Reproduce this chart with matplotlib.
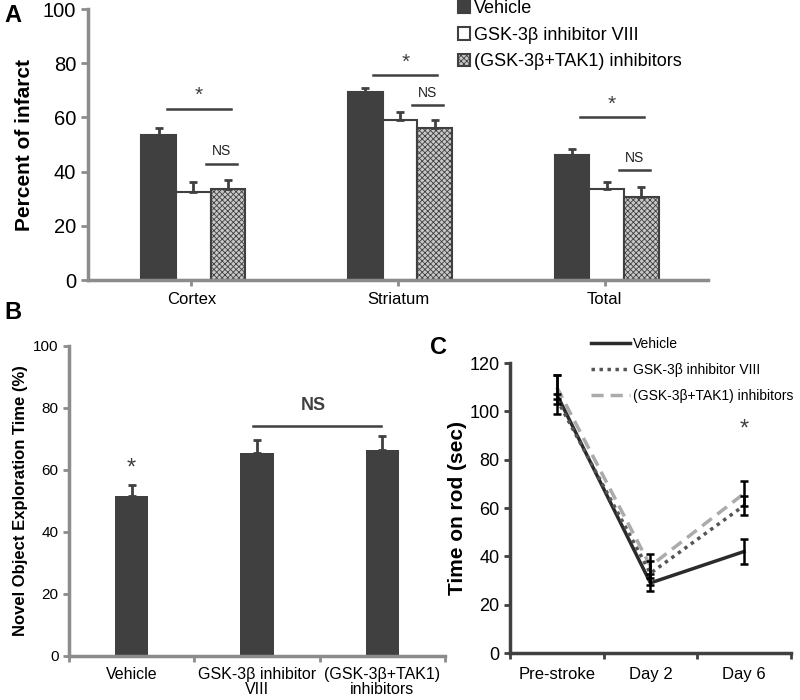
import numpy as np
import matplotlib
matplotlib.use('Agg')
import matplotlib.pyplot as plt

plt.rcParams['font.family'] = ['Liberation Sans', 'DejaVu Sans']
plt.rcParams['hatch.linewidth'] = 0.6

# panel A data
regions = ['Cortex', 'Striatum', 'Total']
groups_a = ['Vehicle', 'GSK-3β inhibitor VIII', '(GSK-3β+TAK1) inhibitors']
infarct = [[53.5, 69.5, 46.0], [32.5, 59.0, 33.5], [33.5, 56.0, 30.5]]
infarct_err = [[2.5, 1.5, 2.5], [3.5, 3.0, 2.5], [3.5, 3.0, 4.0]]

# panel B data
groups_b = ['Vehicle', 'GSK-3β inhibitor\nVIII', '(GSK-3β+TAK1)\ninhibitors']
novel = [51.5, 65.5, 66.5]
novel_err = [3.5, 4.0, 4.5]

# panel C data
days = ['Pre-stroke', 'Day 2', 'Day 6']
rod_vehicle = [107, 29, 42]
rod_gsk = [105, 33, 61]
rod_combo = [110, 36, 66]
rod_vehicle_err = [8, 3.5, 5]
rod_gsk_err = [2, 5, 4]
rod_combo_err = [5, 5, 5]

dark = '#404040'
grey = '#8c8c8c'

fig = plt.figure(figsize=(8, 7), dpi=100)

# ---------------- A ----------------
axA = fig.add_axes([0.11, 0.6, 0.775, 0.387])
x = np.arange(len(regions))
w = 0.168
styles = [dict(color=dark, edgecolor=dark),
          dict(color='white', edgecolor=dark),
          dict(color='#c8c8c8', edgecolor=dark, hatch='xxxxxx')]
bars = []
for i in range(3):
    b = axA.bar(x + (i - 1) * w + 0.01, infarct[i], w, linewidth=1.5, label=groups_a[i], **styles[i])
    axA.errorbar(x + (i - 1) * w + 0.01, infarct[i], yerr=[np.zeros(3), infarct_err[i]],
                 fmt='none', ecolor=dark, elinewidth=2, capsize=3, capthick=2)
    bars.append(b)

# significance marks
for xi, ystar, yns in zip(x, [63, 75.5, 60], [43, 64.5, 40.5]):
    axA.plot([xi - 0.12, xi + 0.19], [ystar, ystar], color=dark, lw=1.8)
    axA.text(xi + 0.035, ystar + 1.5, '*', ha='center', va='bottom', fontsize=15, color=dark)
    axA.plot([xi + 0.07, xi + 0.22], [yns, yns], color=dark, lw=1.8)
    axA.text(xi + 0.145, yns + 2, 'NS', ha='center', va='bottom', fontsize=10, color='#222')

axA.set_xlim(-0.5, 2.5)
axA.set_ylim(0, 100)
axA.set_yticks(range(0, 101, 20))
axA.set_xticks(x)
axA.set_xticklabels(regions, fontsize=12)
axA.tick_params(axis='y', labelsize=14.5, length=5, width=2, color=grey)
axA.tick_params(axis='x', length=4, width=2, color=grey, pad=5)
axA.set_ylabel('Percent of infarct', fontsize=15, fontweight='bold', labelpad=6)
for s in ['top', 'right']:
    axA.spines[s].set_visible(False)
for s in ['left', 'bottom']:
    axA.spines[s].set_color(grey)
    axA.spines[s].set_linewidth(2.5)
axA.legend(handles=bars, loc='upper left', bbox_to_anchor=(0.57, 1.095), frameon=False,
           fontsize=13, handlelength=0.7, handleheight=0.7, handletextpad=0.2, labelspacing=0.55)
fig.text(0.005, 0.978, 'A', fontsize=17, fontweight='bold', va='center')

# ---------------- B ----------------
axB = fig.add_axes([0.08625, 0.0629, 0.47, 0.443])
xb = np.arange(len(groups_b))
axB.bar(xb, novel, 0.264, color=dark)
axB.errorbar(xb, novel, yerr=[np.zeros(3), novel_err], fmt='none', ecolor=dark,
             elinewidth=2, capsize=3, capthick=2)
axB.text(0, 57, '*', ha='center', va='bottom', fontsize=17, color=dark)
axB.plot([0.97, 1.99], [74, 74], color=dark, lw=1.8)
axB.text(1.45, 78, 'NS', ha='center', va='bottom', fontsize=13, fontweight='bold', color=dark)
axB.set_xlim(-0.5, 2.5)
axB.set_ylim(0, 100)
axB.set_yticks(range(0, 101, 20))
axB.set_xticks(xb)
axB.set_xticklabels(groups_b, fontsize=11.5, linespacing=1.0)
axB.set_xticks([-0.5, 0.5, 1.5, 2.5], minor=True)
axB.tick_params(axis='x', which='major', length=0, pad=8)
axB.tick_params(axis='x', which='minor', length=4, width=2, color=grey)
axB.tick_params(axis='y', labelsize=11, length=4, width=2, color=grey)
axB.set_ylabel('Novel Object Exploration Time (%)', fontsize=12, fontweight='bold', labelpad=4)
for s in ['top', 'right']:
    axB.spines[s].set_visible(False)
for s in ['left', 'bottom']:
    axB.spines[s].set_color(grey)
    axB.spines[s].set_linewidth(2.5)
fig.text(0.005, 0.553, 'B', fontsize=17, fontweight='bold', va='center')

# ---------------- C ----------------
axC = fig.add_axes([0.6375, 0.0671, 0.351, 0.4143])
xc = np.arange(len(days))
l1, = axC.plot(xc, rod_vehicle, color='#2b2b2b', lw=2.5, label='Vehicle')
l2, = axC.plot(xc, rod_gsk, color='#555555', lw=2.5, ls=(0, (1, 1.3)), label='GSK-3β inhibitor VIII')
l3, = axC.plot(xc, rod_combo, color='#ababab', lw=2.5, ls=(0, (3.5, 2)), label='(GSK-3β+TAK1) inhibitors')
for vals, errs in [(rod_vehicle, rod_vehicle_err), (rod_gsk, rod_gsk_err), (rod_combo, rod_combo_err)]:
    axC.errorbar(xc, vals, yerr=errs, fmt='none', ecolor='black', elinewidth=1.8, capsize=3, capthick=1.8)
axC.text(2, 88, '*', ha='center', va='bottom', fontsize=17, color=dark)
axC.set_xlim(-0.5, 2.5)
axC.set_ylim(0, 120)
axC.set_yticks(range(0, 121, 20))
axC.set_xticks(xc)
axC.set_xticklabels(days, fontsize=12)
axC.set_xticks([-0.5, 0.5, 1.5, 2.5], minor=True)
axC.tick_params(axis='x', which='major', length=0, pad=10)
axC.tick_params(axis='x', which='minor', length=4, width=2, color=dark)
axC.tick_params(axis='y', labelsize=13, length=4, width=2, color=dark)
axC.set_ylabel('Time on rod (sec)', fontsize=15, fontweight='bold', labelpad=2)
for s in ['top', 'right']:
    axC.spines[s].set_visible(False)
for s in ['left', 'bottom']:
    axC.spines[s].set_color(dark)
    axC.spines[s].set_linewidth(2.5)
axC.legend(handles=[l1, l2, l3], loc='upper left', bbox_to_anchor=(0.245, 1.133), frameon=False,
           fontsize=10, handlelength=2.8, handletextpad=0.2, labelspacing=0.85)
fig.text(0.538, 0.503, 'C', fontsize=17, fontweight='bold', va='center')

fig.savefig('out.png', dpi=100)
